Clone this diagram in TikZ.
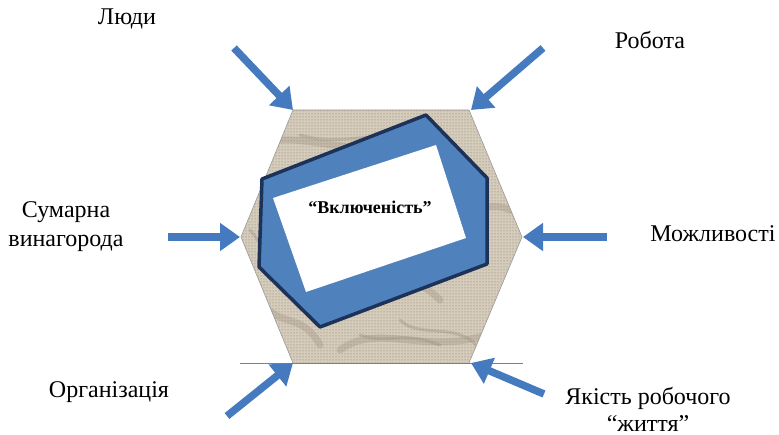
\documentclass[tikz,border=0pt]{standalone}
\usepackage{fontspec}
\setmainfont{Liberation Serif}
\usepackage{xcolor}
\definecolor{arrowblue}{RGB}{70,122,190}
\definecolor{fillblue}{RGB}{79,129,189}
\definecolor{navy}{RGB}{29,50,88}
\definecolor{paper}{RGB}{214,204,187}
\definecolor{crease}{RGB}{160,148,130}
\usepackage{tikz}
\usetikzlibrary{
    arrows.meta,
    patterns
}

\begin{document}
\begin{tikzpicture}[x=1pt,y=-1pt,
        force/.style={-{Triangle[length=20pt,width=27pt]}, line width=7.5pt, arrowblue},
        factor/.style={font=\fontsize{24}{29}\selectfont, align=center, inner sep=0pt},
        core/.style={font=\bfseries\fontsize{18}{20}\selectfont, inner sep=0pt}
    ]
        \useasboundingbox (0,0) rectangle (779,435);

        % hexagon corners
        \coordinate (v1) at (293,110);
        \coordinate (v2) at (469,110);
        \coordinate (v3) at (522,237);
        \coordinate (v4) at (469,363);
        \coordinate (v5) at (293,363);
        \coordinate (v6) at (241,237);

        % crumpled paper
        \fill[paper] (v1) -- (v2) -- (v3) -- (v4) -- (v5) -- (v6) -- cycle;
        \begin{scope}
            \clip (v1) -- (v2) -- (v3) -- (v4) -- (v5) -- (v6) -- cycle;
            \draw[crease, line width=7pt, opacity=0.35, line cap=round]
                (250,150) .. controls (300,120) and (340,170) .. (420,130)
                (300,260) .. controls (330,300) and (390,250) .. (440,300)
                (340,350) .. controls (380,320) and (430,360) .. (500,330)
                (430,210) .. controls (470,230) and (480,190) .. (520,215)
                (260,300) .. controls (280,330) and (300,310) .. (320,345);
            \draw[crease, line width=3pt, opacity=0.4, line cap=round]
                (300,135) .. controls (350,150) and (390,120) .. (460,150)
                (250,230) .. controls (270,250) and (260,280) .. (290,290)
                (400,320) .. controls (420,340) and (460,320) .. (480,350)
                (360,335) .. controls (390,345) and (400,330) .. (440,345);
            \fill[pattern=dots, pattern color=crease!80!black] (v1) -- (v2) -- (v3) -- (v4) -- (v5) -- (v6) -- cycle;
        \end{scope}
        \draw[gray!80, line width=0.6pt] (v1) -- (v2) -- (v3) -- (v4);
        \draw[gray!80, line width=0.6pt] (v5) -- (v6) -- (v1);
        \draw[gray, line width=0.8pt] (240,363) -- (523,363);

        % inclusion block
        \draw[fill=fillblue, draw=navy, line width=3.5pt, line join=round]
            (262,179) -- (426,115) -- (487,178) -- (487,264) -- (320,327) -- (259,267) -- cycle;
        \fill[white] (273,198) -- (436,145) -- (466,238) -- (306,292) -- cycle;
        \node[core] (incl) at (370,207) {“Включеність”};

        % factors
        \node[factor] (people) at (127,19) {Люди};
        \node[factor] (work) at (650,40) {Робота};
        \node[factor] (reward) at (66,227) {Сумарна\\винагорода};
        \node[factor] (chance) at (713,234) {Можливості};
        \node[factor] (org) at (109,392) {Організація};
        \node[factor, font=\fontsize{24}{27}\selectfont] (quality) at (648,409) {Якість робочого\\“життя”};

        % arrow tails
        \coordinate (t1) at (234,48);
        \coordinate (t2) at (543,48);
        \coordinate (t3) at (607,237);
        \coordinate (t4) at (544,394);
        \coordinate (t5) at (227,416);
        \coordinate (t6) at (168,237);

        \draw[force] (t1) -- (v1);
        \draw[force] (t2) -- ([xshift=2pt]v2);
        \draw[force] (t3) -- ([xshift=1pt]v3);
        \draw[force] (t4) -- ([xshift=2pt]v4);
        \draw[force] (t5) -- (v5);
        \draw[force] (t6) -- ([xshift=-1pt]v6);
    \end{tikzpicture}
\end{document}
